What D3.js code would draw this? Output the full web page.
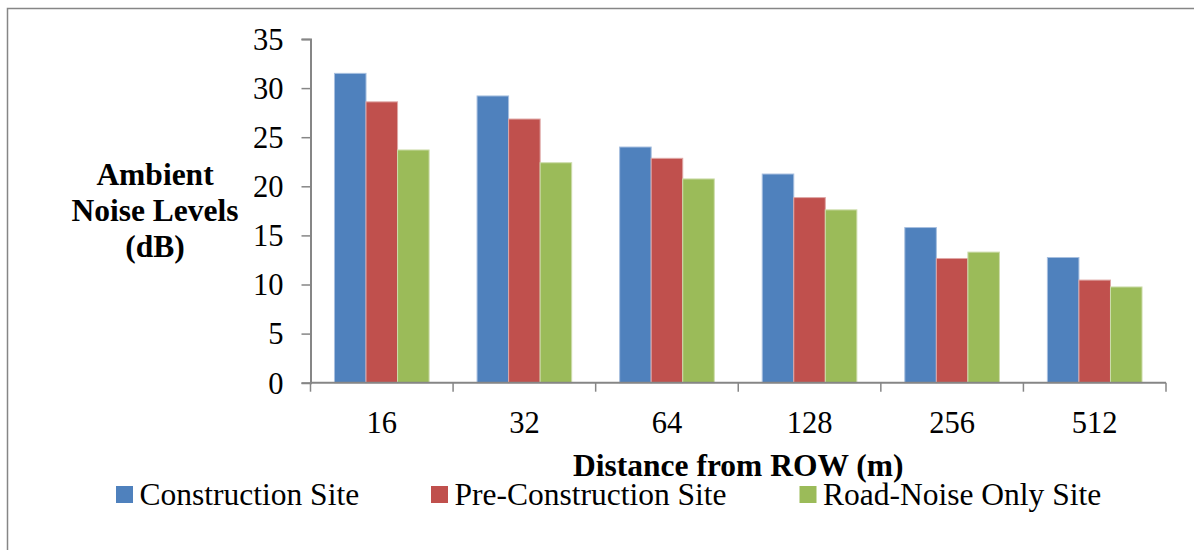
<!DOCTYPE html>
<html>
<head>
<meta charset="utf-8">
<script src="https://cdn.jsdelivr.net/npm/d3@7"></script>
<style>
  html, body { margin: 0; padding: 0; background: #fff; }
  svg { display: block; }
  text { font-family: "Liberation Serif", "Times New Roman", serif; fill: #000; }
</style>
</head>
<body>
<svg id="chart" width="1194" height="550"></svg>
<script>
const categories = ["16", "32", "64", "128", "256", "512"];
const seriesNames = ["Construction Site", "Pre-Construction Site", "Road-Noise Only Site"];
const construction = [31.5, 29.2, 24.0, 21.25, 15.8, 12.75];
const preConstruction = [28.6, 26.85, 22.85, 18.85, 12.65, 10.45];
const roadNoise = [23.7, 22.4, 20.75, 17.6, 13.3, 9.75];
const yTicks = [0, 5, 10, 15, 20, 25, 30, 35];
const colors = ["#4F81BD", "#C0504D", "#9BBB59"];
const strokes = ["#a7bfdf", "#dfa7a6", "#cddcab"];

const seriesValues = [construction, preConstruction, roadNoise];

(function () {
const svg = d3.select("#chart");
const axisColor = "#868686";

// outer frame
svg.append("rect")
  .attr("x", 7.5).attr("y", 8.5)
  .attr("width", 1300).attr("height", 700)
  .attr("fill", "none").attr("stroke", axisColor).attr("stroke-width", 1.5);

const pLeft = 310.5, pRight = 1166, pTop = 39, pBottom = 382.7;

const x = d3.scaleBand().domain(categories).range([pLeft, pRight]).paddingInner(0).paddingOuter(0);
const xInner = d3.scaleBand().domain(d3.range(3)).range([0, x.bandwidth()]).paddingInner(0).paddingOuter(0.76);
const y = d3.scaleLinear().domain([0, 35]).range([pBottom, pTop]);

// bars
const g = svg.append("g");
categories.forEach((c, i) => {
  seriesValues.forEach((vals, s) => {
    g.append("rect")
      .attr("x", x(c) + xInner(s))
      .attr("y", y(vals[i]))
      .attr("width", xInner.bandwidth())
      .attr("height", y(0) - y(vals[i]))
      .attr("fill", colors[s])
      .attr("stroke", strokes[s])
      .attr("stroke-width", 1);
  });
});

// y axis
const yAxis = d3.axisLeft(y).tickValues(yTicks).tickSize(9).tickPadding(18).tickFormat(d3.format("d"));
const ya = svg.append("g").attr("transform", `translate(${pLeft},0)`).call(yAxis);
ya.select(".domain").attr("stroke", axisColor).attr("stroke-width", 2);
ya.selectAll(".tick line").attr("stroke", axisColor).attr("stroke-width", 1.5);
ya.selectAll(".tick text")
  .attr("font-family", "Liberation Serif, Times New Roman, serif")
  .attr("font-size", 30.5).attr("fill", "#000")
  .attr("dy", "0.34em");

// x axis
const xAxis = d3.axisBottom(x).tickSize(0).tickPadding(0);
const xa = svg.append("g").attr("transform", `translate(0,${pBottom})`).call(xAxis);
xa.select(".domain").remove();
xa.append("line").attr("x1", pLeft).attr("x2", pRight).attr("y1", 0).attr("y2", 0)
  .attr("stroke", axisColor).attr("stroke-width", 2);
const boundaries = categories.map(c => x(c)).concat([pRight]);
xa.selectAll(".bnd").data(boundaries).enter().append("line")
  .attr("x1", d => d).attr("x2", d => d).attr("y1", 0).attr("y2", 9)
  .attr("stroke", axisColor).attr("stroke-width", 1.5);
xa.selectAll(".tick text")
  .attr("font-family", "Liberation Serif, Times New Roman, serif")
  .attr("font-size", 30.5).attr("fill", "#000")
  .attr("y", 50).attr("dy", 0);

// axis titles
svg.append("text")
  .attr("x", (pLeft + pRight) / 2).attr("y", 476)
  .attr("text-anchor", "middle")
  .attr("font-weight", "bold").attr("font-size", 31.5)
  .text("Distance from ROW (m)");

const yTitle = svg.append("text")
  .attr("text-anchor", "middle")
  .attr("font-weight", "bold").attr("font-size", 31.5);
["Ambient", "Noise Levels", "(dB)"].forEach((t, i) => {
  yTitle.append("tspan").attr("x", 155).attr("y", 185 + i * 36).text(t);
});

// legend
const legendX = [116, 431, 799.5];
seriesNames.forEach((name, i) => {
  svg.append("rect")
    .attr("x", legendX[i]).attr("y", 486)
    .attr("width", 17).attr("height", 17)
    .attr("fill", colors[i]);
  svg.append("text")
    .attr("x", legendX[i] + 23.5).attr("y", 505)
    .attr("font-size", 31.5)
    .text(name);
});
})();
</script>
</body>
</html>
